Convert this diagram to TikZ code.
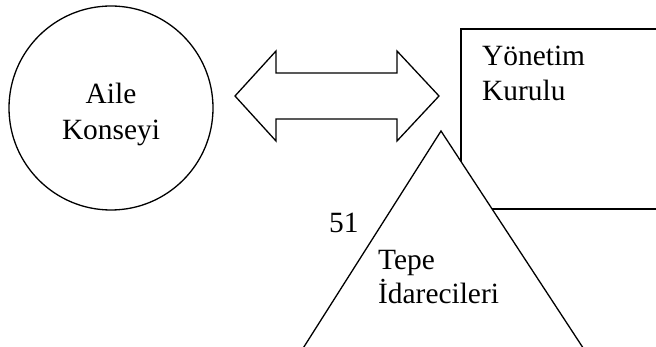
\documentclass[tikz,border=0pt]{standalone}
\usepackage{fontspec}
\setmainfont{Liberation Serif}
\begin{document}
\begin{tikzpicture}[x=1pt,y=-1pt,
  outline/.style={draw=black,line width=1.3pt,line join=miter},
  label/.style={inner sep=0pt,font=\fontsize{29.4}{36}\selectfont}]
\useasboundingbox (0,0) rectangle (656,347);
\clip (0,0) rectangle (656,347);

% family council
\node[outline,circle,minimum size=204pt,inner sep=0pt] (council) at (111,108) {};

% two-way arrow between council and board
\draw[outline] (235,96) -- (276,51) -- (276,73) -- (397,73) -- (397,51)
  -- (439,96) -- (397,141) -- (397,119) -- (276,119) -- (276,141) -- cycle;

% board of directors (runs off the right edge)
\draw[outline] (461,29) rectangle (690,209);
\coordinate (board) at (461,29);

% top management pyramid, drawn over the board
\coordinate (apex) at (441,131);
\filldraw[outline,fill=white] (apex) -- (270.2,400) -- (617.2,400) -- cycle;

% labels
\node[label,anchor=base] (a1) at (111,104) {Aile};
\node[label,anchor=base] (a2) at (111,140) {Konseyi};
\node[label,anchor=base west] (y1) at (482,66) {Yönetim};
\node[label,anchor=base west] (y2) at (482,101) {Kurulu};
\node[label,anchor=base west] (n51) at (329,233) {51};
\node[label,anchor=base west] (t1) at (378,270) {Tepe};
\node[label,anchor=base west] (t2) at (378,304) {İdarecileri};
\end{tikzpicture}
\end{document}
